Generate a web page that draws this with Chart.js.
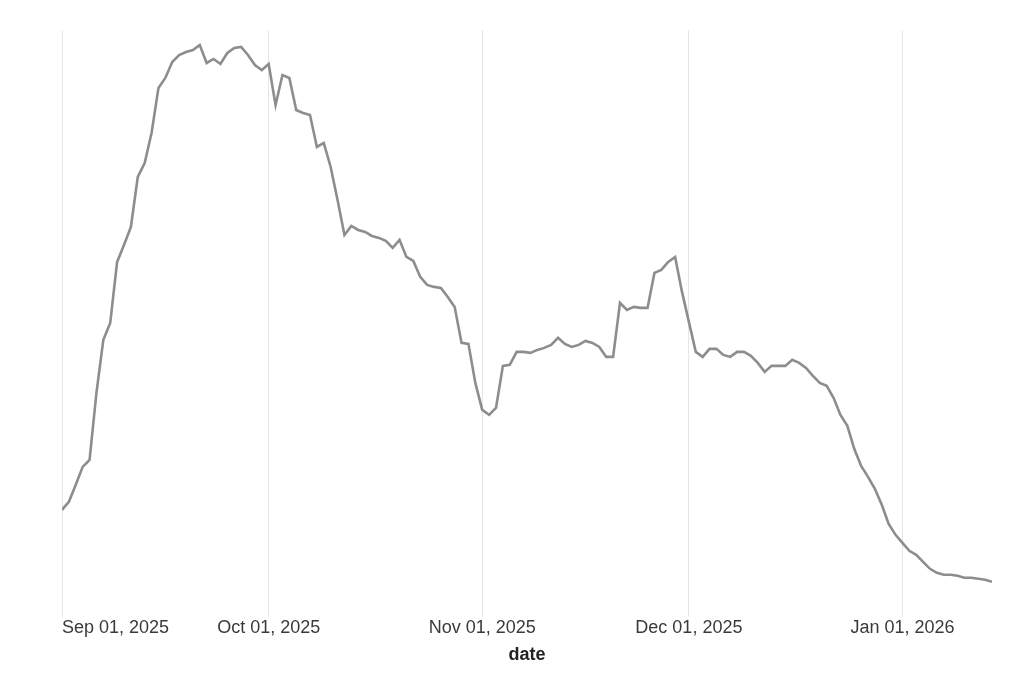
<!DOCTYPE html>
<html>
<head>
<meta charset="utf-8">
<script src="https://cdn.jsdelivr.net/npm/chart.js@4"></script>
<style>
  html, body { margin: 0; padding: 0; background: #fff; }
  #wrap { width: 1024px; height: 683px; }
</style>
</head>
<body>
<div id="wrap"><canvas id="myChart"></canvas></div>
<script>
// one value per day, starting Sep 01, 2025
const values = [
  90, 98, 115, 133, 140, 207, 260, 277, 338, 355,
  373, 423, 437, 467, 512, 522, 538, 545, 548, 550,
  555, 537, 541, 536, 547, 552, 553, 545, 535, 530,
  536, 495, 525, 522, 490, 487, 485, 453, 457, 433,
  400, 365, 374, 370, 368, 364, 362, 359, 352, 360,
  343, 339, 323, 315, 313, 312, 303, 293, 257, 256,
  217, 190, 185, 192, 234, 235, 248, 248, 247, 250,
  252, 255, 262, 256, 253, 255, 259, 257, 253, 243,
  243, 297, 290, 293, 292, 292, 327, 330, 338, 343,
  308, 278, 248, 243, 251, 251, 245, 243, 248, 248,
  244, 237, 228, 234, 234, 234, 240, 237, 232, 224,
  217, 214, 202, 185, 174, 151, 134, 123, 111, 95,
  76, 65, 57, 49, 45, 38, 31, 27, 25, 25,
  24, 22, 22, 21, 20, 18
]

const tickDays = [0, 30, 61, 91, 122]
const tickLabels = ['Sep 01, 2025', 'Oct 01, 2025', 'Nov 01, 2025', 'Dec 01, 2025', 'Jan 01, 2026']
const lastDay = values.length - 1

Chart.defaults.font.family = "'Liberation Sans', Arial, Helvetica, sans-serif"

const ctx = document.getElementById('myChart')

new Chart(ctx, {
    type: 'line',
    data: {
        datasets: [{
            label: 'value',
            data: values.map((v, i) => ({ x: i, y: v })),
            borderColor: '#8d8d8d',
            borderWidth: 2.6,
            pointRadius: 0,
            tension: 0,
            fill: false
        }]
    },
    options: {
        responsive: true,
        maintainAspectRatio: false,
        animation: false,
        layout: {
            padding: { left: 62, right: 32, top: 30, bottom: 17 }
        },
        plugins: {
            legend: { display: false },
            tooltip: { enabled: false }
        },
        scales: {
            x: {
                type: 'linear',
                min: 0,
                max: lastDay,
                afterBuildTicks: scale => {
                    scale.ticks = tickDays.concat([lastDay]).map(v => ({ value: v }))
                },
                ticks: {
                    autoSkip: false,
                    maxRotation: 0,
                    align: 'inner',
                    padding: 0,
                    color: '#3a3a3a',
                    font: { size: 18 },
                    callback: value => {
                        const i = tickDays.indexOf(value)
                        return i >= 0 ? tickLabels[i] : ''
                    }
                },
                grid: {
                    color: c => (c.tick && c.tick.value === lastDay) ? 'rgba(0,0,0,0)' : '#e6e6e6',
                    lineWidth: 1,
                    tickLength: 10
                },
                border: { display: false },
                title: {
                    display: true,
                    text: 'date',
                    color: '#222',
                    font: { size: 18, weight: 'bold' },
                    padding: { top: 6, bottom: 0 }
                }
            },
            y: {
                display: false,
                min: -7,
                max: 570
            }
        }
    }
})
</script>
</body>
</html>
